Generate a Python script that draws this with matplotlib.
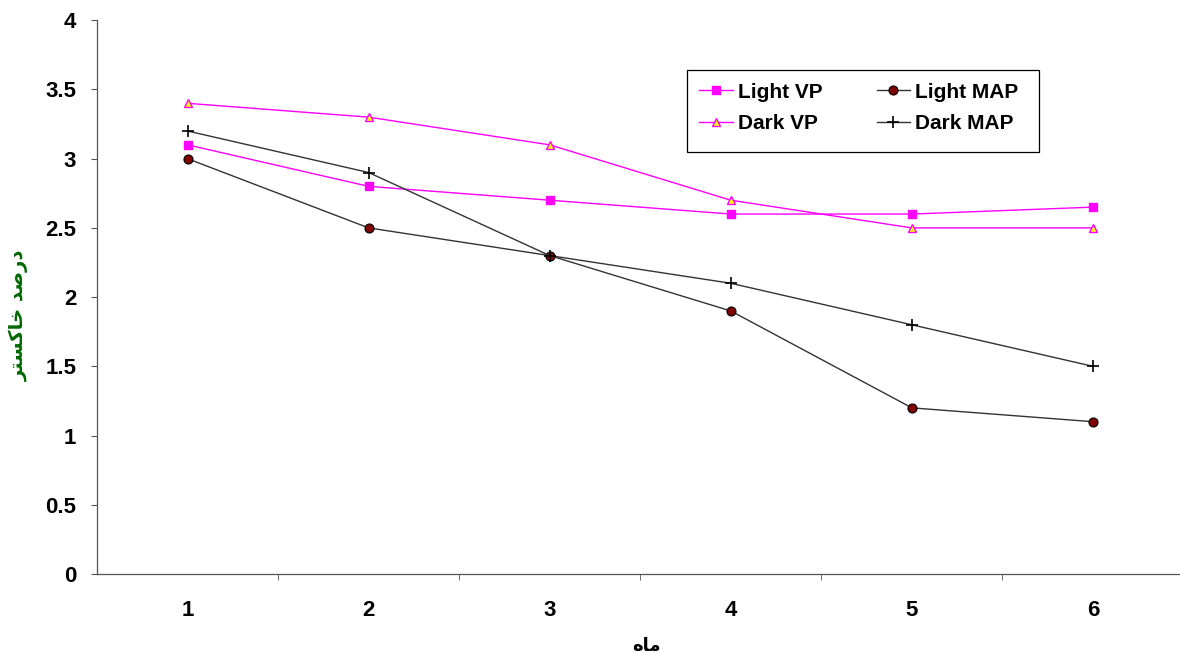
import matplotlib
matplotlib.use('Agg')
import matplotlib.pyplot as plt
from matplotlib.patches import Rectangle

plt.rcParams['font.family'] = ['Liberation Sans', 'DejaVu Sans']

months = [1, 2, 3, 4, 5, 6]
light_vp = [3.1, 2.8, 2.7, 2.6, 2.6, 2.65]
dark_vp = [3.4, 3.3, 3.1, 2.7, 2.5, 2.5]
light_map = [3.0, 2.5, 2.3, 1.9, 1.2, 1.1]
dark_map = [3.2, 2.9, 2.3, 2.1, 1.8, 1.5]
yticks = [0, 0.5, 1, 1.5, 2, 2.5, 3, 3.5, 4]

# Persian labels in visual order with presentation forms (no shaping engine in matplotlib)
ylabel_fa = '\uFEAE\uFE98\uFEB4\uFB90\uFE8E\uFEA7 \uFEAA\uFEBB\uFEAD\uFEA9'  # درصد خاکستر
xlabel_fa = '\uFEE9\uFE8E\uFEE3'  # ماه

fig = plt.figure(figsize=(11.8, 6.53), dpi=100)
ax = fig.add_axes([0.0822, 0.121, 0.9208, 0.848])

ax.plot(months, light_vp, color='#FF00FF', lw=1.0, marker='s', ms=6,
        mfc='#FF00FF', mec='#FF00FF', label='Light VP')
ax.plot(months, dark_vp, color='#FF00FF', lw=1.0, marker='^', ms=6,
        mfc='#FFFF00', mec='#FF00FF', mew=1.0, label='Dark VP')
ax.plot(months, light_map, color='#333333', lw=1.0, marker='o', ms=6.5,
        mfc='#800000', mec='#000000', mew=0.8, label='Light MAP')
ax.plot(months, dark_map, color='#333333', lw=1.0, marker='+', ms=9,
        mec='#000000', mew=1.2, label='Dark MAP')

ax.set_xlim(0.5, 6.5)
ax.set_ylim(0, 4)
ax.set_yticks(yticks)
ax.set_yticklabels(['%g' % t for t in yticks])
ax.set_xticks(months)
ax.set_xticklabels([str(m) for m in months])
ax.set_xticks([1.5, 2.5, 3.5, 4.5, 5.5], minor=True)
ax.tick_params(axis='x', which='major', length=0, pad=19, labelsize=16)
ax.tick_params(axis='x', which='minor', length=4, direction='out', color='#555555')
ax.tick_params(axis='y', length=4, direction='out', labelsize=16, color='#555555', pad=11)
for lab in ax.get_xticklabels() + ax.get_yticklabels():
    lab.set_fontweight('bold')

for s in ['top', 'right']:
    ax.spines[s].set_visible(False)
for s in ['left', 'bottom']:
    ax.spines[s].set_color('#555555')
    ax.spines[s].set_linewidth(0.9)

ax.set_ylabel(ylabel_fa, family=['DejaVu Sans'], fontsize=14, fontweight='bold',
              color='#006600')
ax.yaxis.set_label_coords(-0.063, 0.4675)
ax.set_xlabel(xlabel_fa, family=['DejaVu Sans'], fontsize=13, fontweight='bold')
ax.xaxis.set_label_coords(0.506, -0.113)

handles, labels = ax.get_legend_handles_labels()
leg = ax.legend(handles, labels, ncol=2, loc='upper left',
                bbox_to_anchor=(0.543, 0.91), frameon=False,
                prop={'weight': 'bold', 'size': 15}, handlelength=1.6,
                columnspacing=2.6, borderpad=0.6, borderaxespad=0,
                labelspacing=0.6, handletextpad=0.25)
ax.add_patch(Rectangle((0.543, 0.762), 0.324, 0.148, transform=ax.transAxes,
                       fill=False, edgecolor='#000000', lw=0.9, clip_on=False))

fig.savefig('out.png', dpi=100)
